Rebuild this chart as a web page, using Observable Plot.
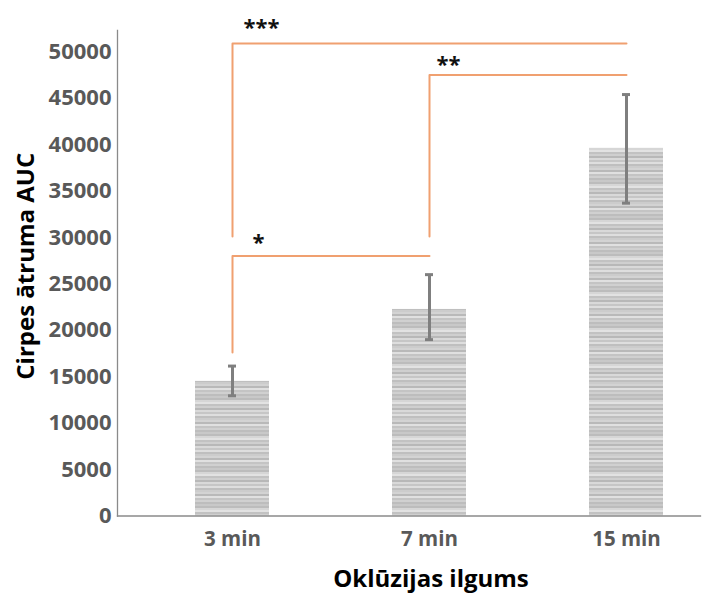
<!DOCTYPE html>
<html>
<head>
<meta charset="utf-8">
<script src="https://cdn.jsdelivr.net/npm/d3@7"></script>
<script src="https://cdn.jsdelivr.net/npm/@observablehq/plot@0.6"></script>
<style>
  html, body { margin: 0; padding: 0; background: #fff; }
  #chart { width: 708px; height: 594px; }
</style>
</head>
<body>
<div id="chart"></div>
<script>
// ---- data ----
const categories = ["3 min", "7 min", "15 min"];
const means = [14500, 22250, 39600];
const errLow = [12950, 19000, 33700];
const errHigh = [16150, 26000, 45400];
const yTicks = [0, 5000, 10000, 15000, 20000, 25000, 30000, 35000, 40000, 45000, 50000];

// significance brackets
const bracketFrom = ["3 min", "3 min", "7 min"];
const bracketTo = ["7 min", "15 min", "15 min"];
const bracketTop = [28000, 50900, 47500];
const bracketLegBottom = [17600, 30100, 30100];
const sigLabels = ["*", "***", "**"];
const sigLabelY = [29400, 52600, 48600];
const sigLabelDx = [20, 11, 7];

const xTitle = "Oklūzijas ilgums";
const yTitle = "Cirpes ātruma AUC";

// ---- build tables ----
const bars = categories.map((c, i) => ({cat: c, mean: means[i], lo: errLow[i], hi: errHigh[i]}));
const bracketPts = [];
bracketFrom.forEach((f, i) => {
  bracketPts.push({id: i, x: f, y: bracketLegBottom[i]});
  bracketPts.push({id: i, x: f, y: bracketTop[i]});
  bracketPts.push({id: i, x: bracketTo[i], y: bracketTop[i]});
});
const labels = sigLabels.map((t, i) => ({t, x: bracketFrom[i], y: sigLabelY[i], dx: sigLabelDx[i]}));

const axisGrey = "#8a8a8a";
const orange = "#F0A070";
const font = "Open Sans";

const marks = [
  Plot.barY(bars, {x: "cat", y: "mean", fill: "url(#stripes)"}),
  Plot.ruleX(bars, {x: "cat", y1: "lo", y2: "hi", stroke: "#7f7f7f", strokeWidth: 3}),
  Plot.tickY(bars, {x: "cat", y: "lo", insetLeft: 33, insetRight: 33, stroke: "#7f7f7f", strokeWidth: 3}),
  Plot.tickY(bars, {x: "cat", y: "hi", insetLeft: 33, insetRight: 33, stroke: "#7f7f7f", strokeWidth: 3}),
  Plot.line(bracketPts, {x: "x", y: "y", z: "id", stroke: orange, strokeWidth: 2}),
  ...labels.map(l => Plot.text([l], {x: "x", y: "y", text: "t", textAnchor: "start", dx: l.dx,
    fontSize: 22, fontWeight: "bold", fill: "#111", fontFamily: font})),
  Plot.frame({anchor: "left", stroke: axisGrey, strokeWidth: 1.3}),
  Plot.frame({anchor: "bottom", stroke: axisGrey, strokeWidth: 1.3}),
  Plot.axisY(yTicks, {tickSize: 0, tickPadding: 6, tickFormat: d => String(d), label: null,
    color: "#595959", fontSize: 22, fontWeight: "bold", fontFamily: font}),
  Plot.axisX({tickSize: 0, tickPadding: 15, label: null,
    color: "#595959", fontSize: 20.5, fontWeight: "bold", fontFamily: font}),
  Plot.text([xTitle], {text: d => d, frameAnchor: "bottom", lineAnchor: "middle", textAnchor: "middle",
    dx: 22, dy: 63, fontSize: 24, fontWeight: "bold", fill: "#000", fontFamily: font}),
  Plot.text([yTitle], {text: d => d, frameAnchor: "left", lineAnchor: "middle", textAnchor: "middle",
    rotate: -90, dx: -91, dy: -7, fontSize: 24, fontWeight: "bold", fill: "#000", fontFamily: font})
];

const plot = Plot.plot({
  width: 708,
  height: 594,
  marginLeft: 117,
  marginRight: 8,
  marginTop: 30,
  marginBottom: 78.5,
  style: {fontFamily: font, background: "#fff"},
  x: {type: "band", domain: categories, range: [133.5, 724.5], paddingInner: 0.625, paddingOuter: 0.3125},
  y: {domain: [0, 52300]},
  marks
});

// striped fill pattern for bars
const ns = "http://www.w3.org/2000/svg";
const defs = document.createElementNS(ns, "defs");
const pat = document.createElementNS(ns, "pattern");
pat.setAttribute("id", "stripes");
pat.setAttribute("patternUnits", "userSpaceOnUse");
pat.setAttribute("width", "10");
pat.setAttribute("height", "36");
const stripeColors = ["#c8c8c8", "#bcbcbc", "#d6d6d6", "#e2e2e2", "#c2c2c2", "#cfcfcf", "#b8b8b8", "#d9d9d9",
  "#c6c6c6", "#dedede", "#bfbfbf", "#cccccc", "#d3d3d3", "#b9b9b9", "#e0e0e0", "#c4c4c4", "#d0d0d0", "#bdbdbd"];
stripeColors.forEach((c, i) => {
  const r = document.createElementNS(ns, "rect");
  r.setAttribute("x", "0"); r.setAttribute("y", String(i * 2));
  r.setAttribute("width", "10"); r.setAttribute("height", "2");
  r.setAttribute("fill", c);
  pat.appendChild(r);
});
defs.appendChild(pat);
plot.insertBefore(defs, plot.firstChild);

document.getElementById("chart").appendChild(plot);
</script>
</body>
</html>
